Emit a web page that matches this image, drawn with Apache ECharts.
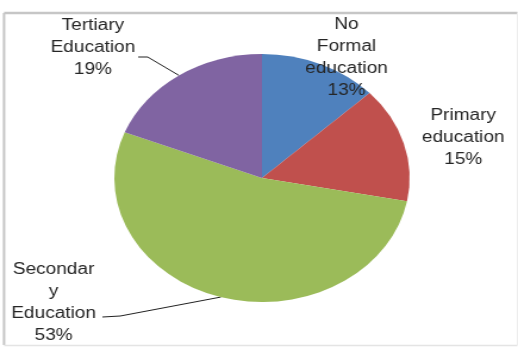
<!DOCTYPE html>
<html>
<head>
<meta charset="utf-8">
<script src="https://cdn.jsdelivr.net/npm/echarts@6/dist/echarts.min.js"></script>
<style>
  html, body { margin: 0; padding: 0; background: #ffffff; overflow: hidden; }
  #wrap { width: 518px; height: 347px; overflow: hidden; }
  /* chart is laid out narrower and stretched horizontally to the final width */
  #chart { width: 435px; height: 347px; transform: scaleX(1.1908); transform-origin: 0 0; }
</style>
</head>
<body>
<div id="wrap"><div id="chart"></div></div>
<script>
// Education level shares (%)
const categories = ['No\nFormal\neducation', 'Primary\neducation', 'Secondar\ny\nEducation', 'Tertiary\nEducation'];
const shares = [13, 15, 53, 19];
const colors = ['#4f81bd', '#c0504d', '#9bbb59', '#8064a2'];

// label placement (chart pixels) and which labels get a leader line
const labelSpots = [
  { x: 291, y: 58, line: false },
  { x: 389, y: 138, line: false },
  { x: 45, y: 303, line: true, elbow: [[101, 316], [86, 317]] },
  { x: 78, y: 48, line: true, elbow: [[124, 57], [116, 57]] }
];

const chart = echarts.init(document.getElementById('chart'), null, { renderer: 'canvas' });

chart.setOption({
  animation: false,
  backgroundColor: '#ffffff',
  graphic: [
    { type: 'line', shape: { x1: 3.4, y1: 13, x2: 434.5, y2: 13 }, style: { stroke: '#c6c6c6', lineWidth: 2.5 } },
    { type: 'line', shape: { x1: 3.4, y1: 13, x2: 3.4, y2: 345 }, style: { stroke: '#c6c6c6', lineWidth: 2 } },
    { type: 'line', shape: { x1: 3.4, y1: 345.5, x2: 434.5, y2: 345.5 }, style: { stroke: '#e4e4e4', lineWidth: 1.5 } },
    { type: 'line', shape: { x1: 434.6, y1: 13, x2: 434.6, y2: 345 }, style: { stroke: '#ececec', lineWidth: 1 } }
  ],
  series: [{
    type: 'pie',
    center: [220, 178],
    radius: 124,
    startAngle: 90,
    clockwise: true,
    color: colors,
    itemStyle: { borderWidth: 0 },
    label: {
      show: true,
      position: 'outside',
      formatter: '{b}\n{c}%',
      fontFamily: 'Liberation Sans, Arial, sans-serif',
      fontSize: 16,
      lineHeight: 22,
      color: '#262626',
      align: 'center',
      overflow: 'none'
    },
    labelLine: { show: true, lineStyle: { color: '#222222', width: 1 } },
    labelLayout: function (params) {
      const spot = labelSpots[params.dataIndex];
      const out = { x: spot.x, y: spot.y, align: 'center', verticalAlign: 'middle' };
      if (spot.line && params.labelLinePoints && params.labelLinePoints.length) {
        out.labelLinePoints = [params.labelLinePoints[0]].concat(spot.elbow);
      }
      return out;
    },
    data: categories.map(function (name, i) {
      return {
        name: name,
        value: shares[i],
        labelLine: { show: labelSpots[i].line }
      };
    })
  }]
});
</script>
</body>
</html>
